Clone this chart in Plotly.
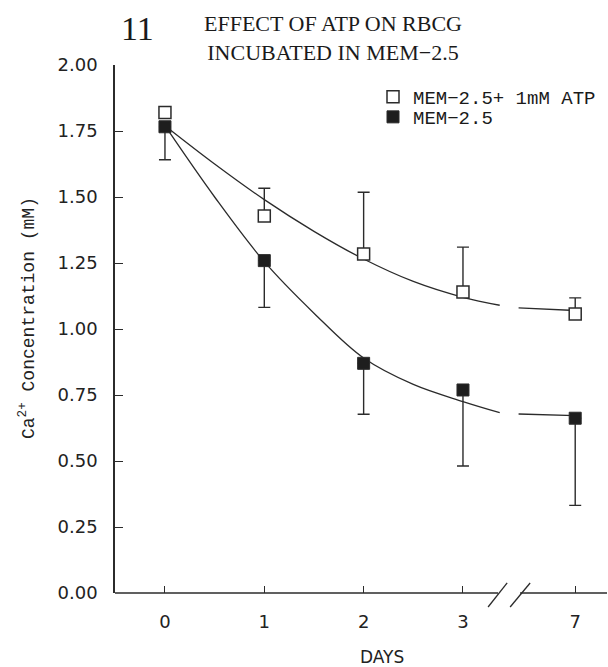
import plotly.graph_objects as go

# ---- data ----
day_labels = ["0", "1", "2", "3", "7"]
day_pos = [0, 1, 2, 3, 4.13]          # broken x axis: 3 -> 7 compressed

atp_mean = [1.82, 1.428, 1.284, 1.14, 1.057]
atp_err_up = [0.0, 0.105, 0.234, 0.17, 0.061]

mem_mean = [1.766, 1.259, 0.87, 0.769, 0.662]
mem_err_down = [0.125, 0.177, 0.193, 0.288, 0.33]

# fitted curves as drawn (axis-position units)
fit_x_pre = [0, 0.5, 1, 1.5, 2, 2.5, 3, 3.37]
fit_atp_pre = [1.77, 1.625, 1.49, 1.37, 1.265, 1.18, 1.12, 1.09]
fit_mem_pre = [1.77, 1.50, 1.255, 1.06, 0.89, 0.79, 0.725, 0.683]
fit_x_post = [3.56, 4.13]
fit_atp_post = [1.08, 1.07]
fit_mem_post = [0.678, 0.672]

ink = "#2b2b2b"
x_range = [-0.503, 4.45]
break_gap = [3.353, 3.575]

fig = go.Figure()

for xs, ys in [(fit_x_pre, fit_atp_pre), (fit_x_pre, fit_mem_pre),
               (fit_x_post, fit_atp_post), (fit_x_post, fit_mem_post)]:
    fig.add_trace(go.Scatter(x=xs, y=ys, mode="lines", showlegend=False,
                             line=dict(color=ink, width=1.3, shape="spline", smoothing=1.0),
                             hoverinfo="skip"))

fig.add_trace(go.Scatter(
    x=day_pos, y=atp_mean, mode="markers", name="MEM\u22122.5+ 1mM ATP",
    legend="legend",
    marker=dict(symbol="square", size=12, color="white",
                line=dict(color=ink, width=1.5)),
    error_y=dict(type="data", symmetric=False, array=atp_err_up,
                 arrayminus=[0] * len(atp_err_up), color=ink, thickness=1.4, width=6),
))
fig.add_trace(go.Scatter(
    x=day_pos, y=mem_mean, mode="markers", name="MEM\u22122.5",
    legend="legend2",
    marker=dict(symbol="square", size=12, color="#1e1e1e",
                line=dict(color=ink, width=1)),
    error_y=dict(type="data", symmetric=False, array=[0] * len(mem_err_down),
                 arrayminus=mem_err_down, color=ink, thickness=1.4, width=6),
))

shapes = [
    dict(type="line", xref="x", yref="paper", x0=x_range[0], x1=break_gap[0], y0=0, y1=0,
         line=dict(color=ink, width=1.5)),
    dict(type="line", xref="x", yref="paper", x0=break_gap[1], x1=x_range[1], y0=0, y1=0,
         line=dict(color=ink, width=1.5)),
    dict(type="line", xref="x", yref="paper", x0=3.253, x1=3.445, y0=-0.0265, y1=0.019,
         line=dict(color=ink, width=1.3)),
    dict(type="line", xref="x", yref="paper", x0=3.475, x1=3.676, y0=-0.0265, y1=0.019,
         line=dict(color=ink, width=1.3)),
]

annotations = [
    dict(text="11", xref="paper", yref="paper", x=(137 - 115) / 492, y=(593 - 28) / 528,
         showarrow=False, font=dict(family="Liberation Serif", size=34, color="#1a1a1a"),
         xanchor="center", yanchor="middle"),
    dict(text="EFFECT OF ATP ON RBCG<br>INCUBATED IN MEM\u22122.5", xref="paper", yref="paper",
         x=(333 - 115) / 492, y=(593 - 38) / 528, showarrow=False,
         font=dict(family="Liberation Serif", size=22, color="#1a1a1a"),
         xanchor="center", yanchor="middle", align="center"),
    dict(text="Ca<sup>2+</sup> Concentration (mM)", xref="paper", yref="paper",
         x=(27 - 115) / 492, y=(593 - 318) / 528, textangle=-90, showarrow=False,
         font=dict(family="Liberation Mono", size=18, color="#222"),
         xanchor="center", yanchor="middle"),
    dict(text="DAYS", xref="paper", yref="paper", x=(382 - 115) / 492, y=(593 - 657) / 528,
         showarrow=False, font=dict(family="DejaVu Sans", size=17, color="#222"),
         xanchor="center", yanchor="middle"),
]

legend_font = dict(family="Liberation Mono", size=19, color="#1a1a1a")
fig.update_layout(
    width=608, height=667,
    margin=dict(l=115, r=1, t=65, b=74),
    paper_bgcolor="white", plot_bgcolor="white",
    showlegend=True,
    legend=dict(x=(373 - 115) / 492, y=(593 - 97) / 528, xanchor="left", yanchor="middle",
                bgcolor="rgba(0,0,0,0)", font=legend_font),
    legend2=dict(x=(373 - 115) / 492, y=(593 - 117) / 528, xanchor="left", yanchor="middle",
                 bgcolor="rgba(0,0,0,0)", font=legend_font),
    shapes=shapes, annotations=annotations,
)
fig.update_xaxes(range=x_range, showline=False, showgrid=False, zeroline=False,
                 tickmode="array", tickvals=day_pos, ticktext=day_labels,
                 ticks="inside", ticklen=7, tickwidth=1.4, tickcolor=ink,
                 ticklabelstandoff=16,
                 tickfont=dict(family="DejaVu Sans", size=18, color="#222"))
fig.update_yaxes(range=[0, 2], showline=True, linecolor=ink, linewidth=1.5,
                 showgrid=False, zeroline=False, dtick=0.25, tick0=0, tickformat=".2f",
                 ticks="inside", ticklen=8, tickwidth=1.4, tickcolor=ink,
                 ticklabelstandoff=12,
                 tickfont=dict(family="DejaVu Sans", size=18, color="#222"))

fig.write_html("out.html", config={"displayModeBar": False},
               post_script="document.body.style.margin='0';")
